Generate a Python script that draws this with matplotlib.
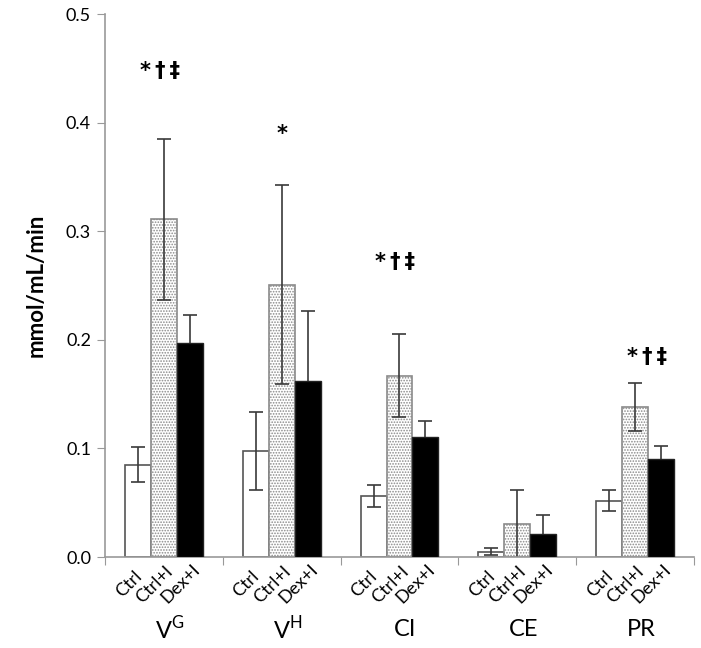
import matplotlib
matplotlib.use("Agg")
import matplotlib.pyplot as plt
import numpy as np

plt.rcParams['font.family'] = ['Lato', 'DejaVu Sans']
plt.rcParams['hatch.color'] = '#8a8a8a'
plt.rcParams['hatch.linewidth'] = 0.8

groups = [r'V$^{\mathregular{G}}$', r'V$^{\mathregular{H}}$', 'CI', 'CE', 'PR']
conditions = ['Ctrl', 'Ctrl+I', 'Dex+I']
ctrl = [0.085, 0.098, 0.056, 0.005, 0.052]
ctrl_err = [0.016, 0.036, 0.010, 0.003, 0.010]
ctrli = [0.311, 0.251, 0.167, 0.030, 0.138]
ctrli_err = [0.074, 0.092, 0.038, 0.032, 0.022]
dexi = [0.197, 0.162, 0.111, 0.021, 0.090]
dexi_err = [0.026, 0.065, 0.014, 0.018, 0.012]
annotations = ['*\u2009†\u2009‡', '*', '*\u2009†\u2009‡', '', '*\u2009†\u2009‡']
annot_y = [0.448, 0.390, 0.272, None, 0.184]
annot_dx = [-0.03, 0.0, -0.04, 0.0, 0.10]

fig = plt.figure(figsize=(7.01, 6.48), dpi=100)
ax = fig.add_axes([0.1498, 0.1404, 0.8402, 0.8376])

x = np.arange(len(groups)) + 0.5
w = 0.22
ekw = dict(ecolor='#3a3a3a', elinewidth=1.2, capsize=5, capthick=1.2)
ax.bar(x - w, ctrl, w, yerr=ctrl_err, facecolor='white', edgecolor='#555555',
       linewidth=1.2, error_kw=ekw, zorder=2)
ax.bar(x, ctrli, w, yerr=ctrli_err, facecolor='white', edgecolor='#8a8a8a',
       hatch='......', linewidth=1.2, error_kw=ekw, zorder=2)
ax.errorbar(x + w, dexi, yerr=dexi_err, fmt='none', zorder=1, **ekw)
ax.bar(x + w, dexi, w, facecolor='black', edgecolor='#222222', linewidth=1.0, zorder=3)

for xi, a, yv, dx in zip(x, annotations, annot_y, annot_dx):
    if a:
        ax.text(xi + dx, yv, a, ha='center', va='center',
                fontsize=15, fontweight='bold', family=['DejaVu Sans'])

ax.set_xlim(0, 5)
ax.set_ylim(0, 0.5)
yt = np.arange(0, 0.51, 0.1)
ax.set_yticks(yt)
ax.set_yticklabels([f'{v:.1f}' for v in yt], fontsize=13)
ax.set_xticks(np.arange(0, 6))
ax.set_xticklabels([])
ax.tick_params(axis='x', length=6, color='#999999', direction='out')
ax.tick_params(axis='y', length=6, color='#999999', direction='out', pad=4)
for s in ['top', 'right']:
    ax.spines[s].set_visible(False)
for s in ['left', 'bottom']:
    ax.spines[s].set_color('#999999')
    ax.spines[s].set_linewidth(1.2)

ax.set_ylabel('mmol/mL/min', fontsize=16, fontweight='bold', labelpad=14)

trans = ax.get_xaxis_transform()
for xi in x:
    for off, lab in zip([-w, 0, w], conditions):
        ax.text(xi + off - 0.08, -0.05, lab, rotation=45, ha='center', va='center',
                rotation_mode='anchor', fontsize=13, transform=trans)
for xi, g in zip(x, groups):
    ax.text(xi + 0.05, -0.133, g, ha='center', va='center', fontsize=17, transform=trans)

fig.savefig('out.png', dpi=100)
